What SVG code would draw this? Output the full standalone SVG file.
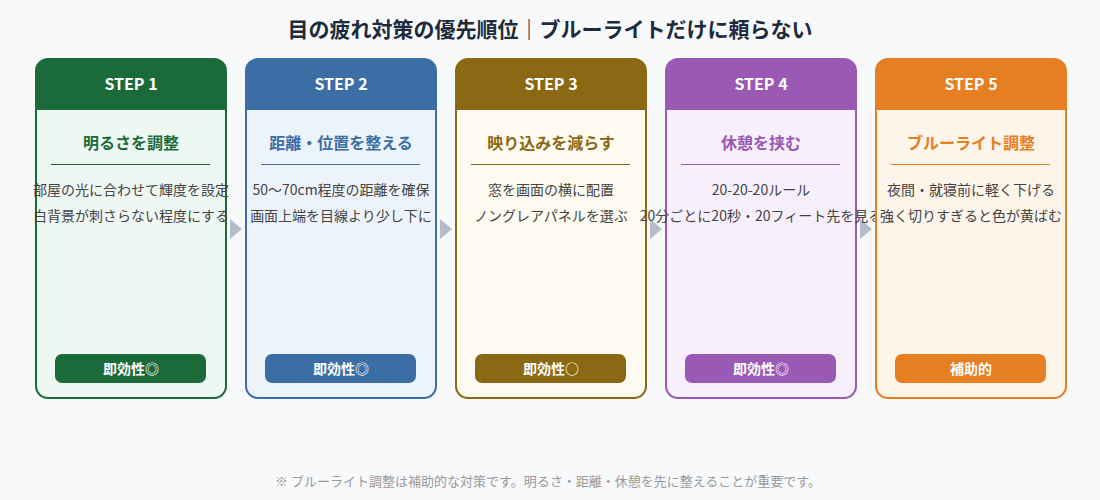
<svg xmlns="http://www.w3.org/2000/svg" width="1100" height="500" viewBox="0 0 1100 500">
<style>
text{font-family:"Noto Sans CJK JP","Noto Sans",sans-serif;text-anchor:middle}
.title{font-size:21px;font-weight:700;fill:#1e2b3b}
.step{font-size:16px;font-weight:700;fill:#fff}
.head{font-size:16px;font-weight:700}
.body{font-size:14px;fill:#444}
.badge{font-size:14px;font-weight:700;fill:#fff}
.foot{font-size:13px;fill:#9a9a9a}
.card{stroke-width:2}
.arrow{fill:#b3bcca}
</style>
<rect width="1100" height="500" fill="#f7f9fb"/>
<text class="title" x="550" y="37">目の疲れ対策の優先順位｜ブルーライトだけに頼らない</text>

<g id="connectors">
<polygon class="arrow" points="230,219 242,229 230,239"/>
<polygon class="arrow" points="440,219 452,229 440,239"/>
<polygon class="arrow" points="650,219 662,229 650,239"/>
<polygon class="arrow" points="860,219 872,229 860,239"/>
</g>

<g id="step1">
<rect class="card" x="36" y="59" width="190" height="339" rx="12" fill="#eef7f1" stroke="#1b6b3a"/>
<path d="M36,110 V71 A12,12 0 0 1 48,59 H214 A12,12 0 0 1 226,71 V110 Z" fill="#1b6b3a"/>
<text class="step" x="131" y="90">STEP 1</text>
<text class="head" x="131" y="149" fill="#1b6b3a">明るさを調整</text>
<line x1="51" y1="164.5" x2="210" y2="164.5" stroke="#1b6b3a" stroke-width="1"/>
<text class="body" x="131" y="195">部屋の光に合わせて輝度を設定</text>
<text class="body" x="131" y="221">白背景が刺さらない程度にする</text>
<rect x="55" y="354" width="151" height="29" rx="7" fill="#1b6b3a"/>
<text class="badge" x="131" y="374">即効性◎</text>
</g>

<g id="step2">
<rect class="card" x="246" y="59" width="190" height="339" rx="12" fill="#edf3fb" stroke="#3a6ea5"/>
<path d="M246,110 V71 A12,12 0 0 1 258,59 H424 A12,12 0 0 1 436,71 V110 Z" fill="#3a6ea5"/>
<text class="step" x="341" y="90">STEP 2</text>
<text class="head" x="341" y="149" fill="#3a6ea5">距離・位置を整える</text>
<line x1="261" y1="164.5" x2="420" y2="164.5" stroke="#3a6ea5" stroke-width="1"/>
<text class="body" x="341" y="195">50〜70cm程度の距離を確保</text>
<text class="body" x="341" y="221">画面上端を目線より少し下に</text>
<rect x="265" y="354" width="151" height="29" rx="7" fill="#3a6ea5"/>
<text class="badge" x="341" y="374">即効性◎</text>
</g>

<g id="step3">
<rect class="card" x="456" y="59" width="190" height="339" rx="12" fill="#fdfbf0" stroke="#8b6914"/>
<path d="M456,110 V71 A12,12 0 0 1 468,59 H634 A12,12 0 0 1 646,71 V110 Z" fill="#8b6914"/>
<text class="step" x="551" y="90">STEP 3</text>
<text class="head" x="551" y="149" fill="#8b6914">映り込みを減らす</text>
<line x1="471" y1="164.5" x2="630" y2="164.5" stroke="#8b6914" stroke-width="1"/>
<text class="body" x="551" y="195">窓を画面の横に配置</text>
<text class="body" x="551" y="221">ノングレアパネルを選ぶ</text>
<rect x="475" y="354" width="151" height="29" rx="7" fill="#8b6914"/>
<text class="badge" x="551" y="374">即効性○</text>
</g>

<g id="step4">
<rect class="card" x="666" y="59" width="190" height="339" rx="12" fill="#f7effb" stroke="#9b59b6"/>
<path d="M666,110 V71 A12,12 0 0 1 678,59 H844 A12,12 0 0 1 856,71 V110 Z" fill="#9b59b6"/>
<text class="step" x="761" y="90">STEP 4</text>
<text class="head" x="761" y="149" fill="#9b59b6">休憩を挟む</text>
<line x1="681" y1="164.5" x2="840" y2="164.5" stroke="#9b59b6" stroke-width="1"/>
<text class="body" x="761" y="195">20-20-20ルール</text>
<text class="body" x="761" y="221">20分ごとに20秒・20フィート先を見る</text>
<rect x="685" y="354" width="151" height="29" rx="7" fill="#9b59b6"/>
<text class="badge" x="761" y="374">即効性◎</text>
</g>

<g id="step5">
<rect class="card" x="876" y="59" width="190" height="339" rx="12" fill="#fdf4ea" stroke="#e67e22"/>
<path d="M876,110 V71 A12,12 0 0 1 888,59 H1054 A12,12 0 0 1 1066,71 V110 Z" fill="#e67e22"/>
<text class="step" x="971" y="90">STEP 5</text>
<text class="head" x="971" y="149" fill="#e67e22">ブルーライト調整</text>
<line x1="891" y1="164.5" x2="1050" y2="164.5" stroke="#e67e22" stroke-width="1"/>
<text class="body" x="971" y="195">夜間・就寝前に軽く下げる</text>
<text class="body" x="971" y="221">強く切りすぎると色が黄ばむ</text>
<rect x="895" y="354" width="151" height="29" rx="7" fill="#e67e22"/>
<text class="badge" x="971" y="374">補助的</text>
</g>

<text class="foot" x="548" y="486">※ ブルーライト調整は補助的な対策です。明るさ・距離・休憩を先に整えることが重要です。</text>
</svg>
